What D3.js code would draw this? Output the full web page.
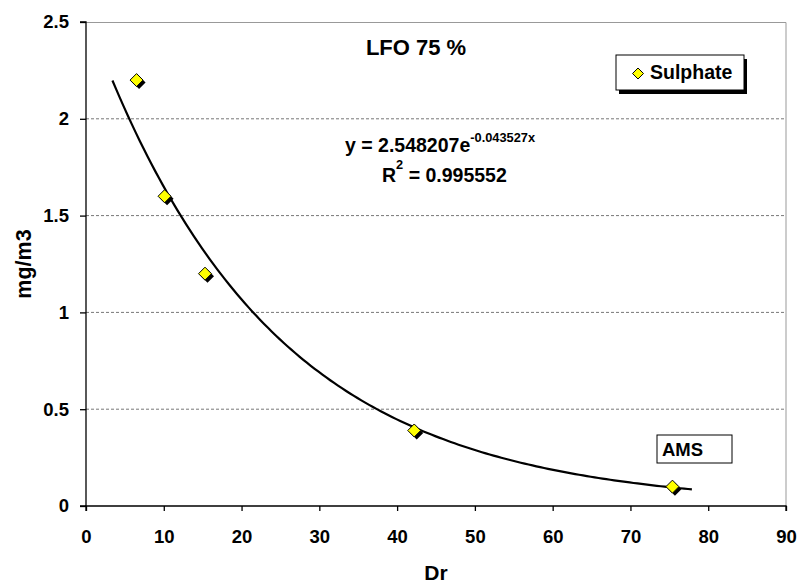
<!DOCTYPE html>
<html>
<head>
<meta charset="utf-8">
<script src="https://cdn.jsdelivr.net/npm/d3@7"></script>
<style>
    body { margin: 0; background: #fff; }
    svg text { font-family: "Liberation Sans", Arial, sans-serif; font-weight: bold; fill: #000; }
</style>
</head>
<body>
<div id="chart"></div>
<script>
// sulphate measurements
const drValues = [6.5, 10.1, 15.3, 42.2, 75.4];
const sulphateValues = [2.2, 1.6, 1.2, 0.39, 0.1];

// exponential fit y = a * e^(b x)
const fitA = 2.548207;
const fitB = -0.043527;
const fitRange = [3.4, 78.1];

const xTicks = [0, 10, 20, 30, 40, 50, 60, 70, 80, 90];
const yTicks = [0, 0.5, 1, 1.5, 2, 2.5];

const width = 799, height = 583;
const margin = {top: 22, right: 13, bottom: 77, left: 86};
const innerW = width - margin.left - margin.right;
const innerH = height - margin.top - margin.bottom;

const svg = d3.select("#chart").append("svg")
    .attr("width", width)
    .attr("height", height);

const g = svg.append("g")
    .attr("transform", `translate(${margin.left}, ${margin.top})`);

const x = d3.scaleLinear().domain([0, 90]).range([0, innerW]);
const y = d3.scaleLinear().domain([0, 2.5]).range([innerH, 0]);

// gridlines
g.selectAll("line.grid")
    .data(yTicks.filter(d => d > 0 && d < 2.5))
    .join("line")
    .attr("class", "grid")
    .attr("x1", 0).attr("x2", innerW)
    .attr("y1", d => y(d)).attr("y2", d => y(d))
    .attr("stroke", "#777")
    .attr("stroke-width", 1)
    .attr("stroke-dasharray", "3,2");

// plot area border top/right
g.append("path")
    .attr("d", `M0,0.5H${innerW}V${innerH}`)
    .attr("fill", "none")
    .attr("stroke", "#999")
    .attr("stroke-width", 1);

// axes
const xAxis = g.append("g")
    .attr("transform", `translate(0, ${innerH})`)
    .call(d3.axisBottom(x).tickValues(xTicks).tickSize(5).tickPadding(19));
const yAxis = g.append("g")
    .call(d3.axisLeft(y).tickValues(yTicks).tickSize(6).tickPadding(11).tickFormat(d3.format("")));

[xAxis, yAxis].forEach(a => {
    a.select(".domain").attr("stroke", "#000").attr("stroke-width", 1.3);
    a.selectAll(".tick line").attr("stroke", "#000").attr("stroke-width", 1.3);
    a.selectAll("text").attr("font-size", 18.5).attr("font-family", "Liberation Sans, Arial, sans-serif").attr("font-weight", "bold");
});
xAxis.select(".domain").attr("d", `M0,5V0H${innerW}V5`);
yAxis.select(".domain").attr("d", `M-6,0H0V${innerH}H-6`);

// trendline
const fitData = d3.range(fitRange[0], fitRange[1] + 0.01, 0.5).map(v => [v, fitA * Math.exp(fitB * v)]);
g.append("path")
    .datum(fitData)
    .attr("fill", "none")
    .attr("stroke", "#000")
    .attr("stroke-width", 2.2)
    .attr("d", d3.line().x(d => x(d[0])).y(d => y(d[1])));

// diamonds
const diamond = s => `M0,${-s}L${s},0L0,${s}L${-s},0Z`;
const pts = g.selectAll("g.pt")
    .data(drValues.map((d, i) => ({x: d, y: sulphateValues[i]})))
    .join("g")
    .attr("class", "pt")
    .attr("transform", d => `translate(${x(d.x)}, ${y(d.y)})`);
pts.append("path")
    .attr("d", diamond(6.5))
    .attr("transform", "translate(2.5,2.5)")
    .attr("fill", "#000");
pts.append("path")
    .attr("d", diamond(6.5))
    .attr("fill", "#ffff00")
    .attr("stroke", "#000")
    .attr("stroke-width", 1);

// title and equation
svg.append("text")
    .attr("x", 416).attr("y", 55)
    .attr("text-anchor", "middle")
    .attr("font-size", 22)
    .text("LFO 75 %");

const eq = svg.append("text")
    .attr("x", 345).attr("y", 152)
    .attr("font-size", 19.5);
eq.append("tspan").text("y = 2.548207e");
eq.append("tspan").attr("dy", -10).attr("font-size", 12.8).text("-0.043527x");

const r2 = svg.append("text")
    .attr("x", 382).attr("y", 182)
    .attr("font-size", 19.5);
r2.append("tspan").text("R");
r2.append("tspan").attr("dy", -13).attr("font-size", 12.8).text("2");
r2.append("tspan").attr("dy", 13).text(" = 0.995552");

// legend
const leg = svg.append("g").attr("transform", "translate(616, 55)");
leg.append("rect").attr("x", 3).attr("y", 4).attr("width", 128).attr("height", 35).attr("fill", "#000");
leg.append("rect").attr("x", 0).attr("y", 0).attr("width", 128).attr("height", 35)
    .attr("fill", "#fff").attr("stroke", "#000").attr("stroke-width", 1);
leg.append("path").attr("d", diamond(5.5)).attr("transform", "translate(22, 18.5)")
    .attr("fill", "#ffff00").attr("stroke", "#000");
leg.append("text").attr("x", 34).attr("y", 24).attr("font-size", 19.5).text("Sulphate");

// AMS box
const ams = svg.append("g").attr("transform", "translate(657, 435)");
ams.append("rect").attr("width", 75).attr("height", 28)
    .attr("fill", "#fff").attr("stroke", "#000").attr("stroke-width", 1);
ams.append("text").attr("x", 5).attr("y", 21).attr("font-size", 18.5).text("AMS");

// axis titles
svg.append("text")
    .attr("transform", "translate(31, 264) rotate(-90)")
    .attr("text-anchor", "middle")
    .attr("font-size", 21.5)
    .text("mg/m3");
svg.append("text")
    .attr("x", 436).attr("y", 580)
    .attr("text-anchor", "middle")
    .attr("font-size", 21)
    .text("Dr");
</script>
</body>
</html>
